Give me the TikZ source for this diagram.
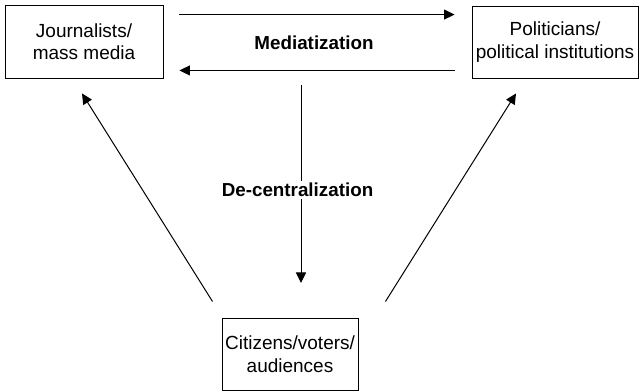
\documentclass[tikz,border=0pt]{standalone}
\usepackage{fontspec}
\setmainfont{Liberation Sans}
\usetikzlibrary{arrows.meta}

\begin{document}
\begin{tikzpicture}[x=1pt, y=1pt,
    box/.style={draw, line width=0.9pt, inner sep=0pt, align=center,
      font=\fontsize{19}{22.5}\selectfont},
    lbl/.style={font=\bfseries\fontsize{18.8}{22}\selectfont},
    arr/.style={-{Triangle[length=10.5pt, width=10pt]}, line width=1pt}]
    \useasboundingbox (0,0) rectangle (640,391);
    \node[box, minimum width=158pt, minimum height=73pt] (media) at (84, 349.5) {Journalists/\\mass media};
    \node[box, minimum width=166pt, minimum height=72pt] (politics) at (555, 349) {Politicians/\\political institutions};
    \node[box, minimum width=136pt, minimum height=72pt] (citizens) at (290, 37) {Citizens/voters/\\audiences};
    \node[lbl] (mediatization) at (314, 348) {Mediatization};
    \coordinate (dtop) at (301, 306);
    \coordinate (dbot) at (301, 108);
    \draw [arr] ([shift={(16,-10)}]media.north east) to ([shift={(-17,-9)}]politics.north west);
    \draw [arr] ([shift={(-17,8)}]politics.south west) to ([shift={(16,8)}]media.south east);
    \draw [arr] (dtop) to node[lbl, fill=white, pos=0.53, xshift=-3.5pt, inner sep=2pt] (decentral) {De-centralization} (dbot);
    \draw [arr] ([shift={(-9,16)}]citizens.north west) to ([shift={(-2,-15)}]media.south);
    \draw [arr] ([shift={(27,16)}]citizens.north east) to ([shift={(-39,-15)}]politics.south);
  \end{tikzpicture}
\end{document}
